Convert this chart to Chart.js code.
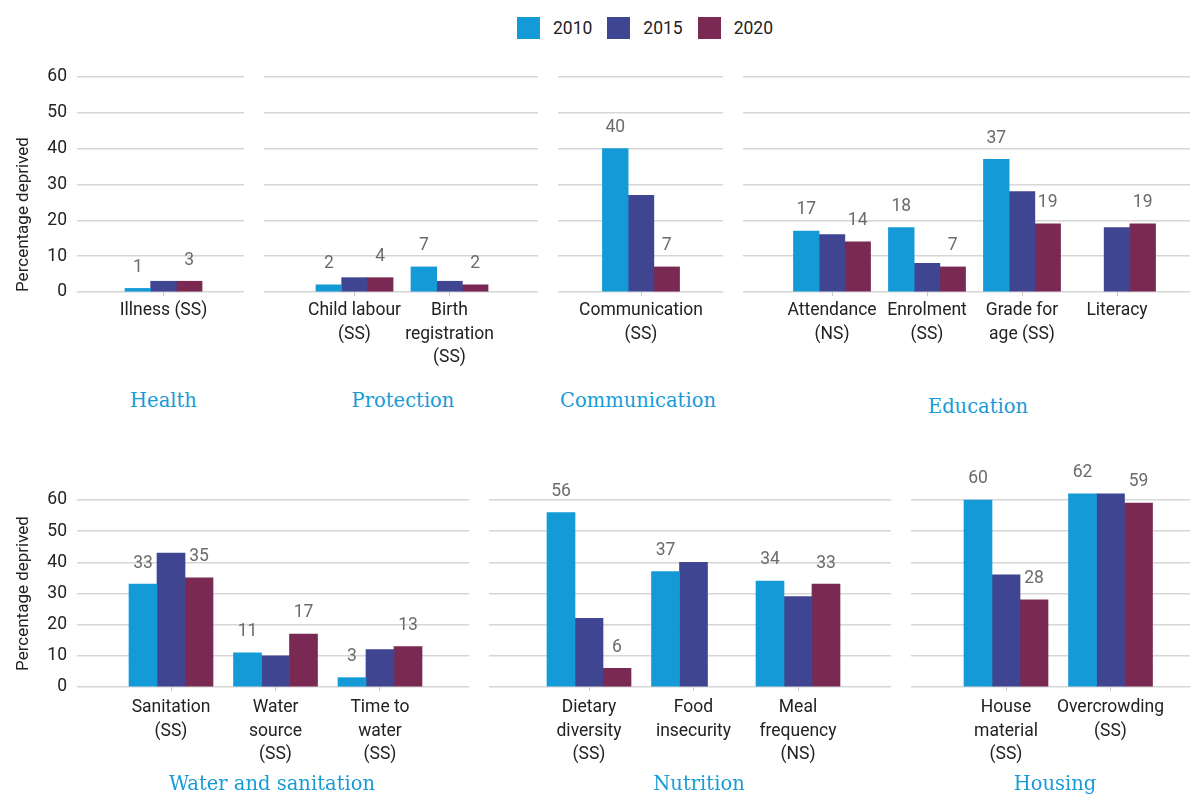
<!DOCTYPE html>
<html>
<head>
<meta charset="utf-8">
<script src="https://cdn.jsdelivr.net/npm/chart.js@4.4.1/dist/chart.umd.min.js"></script>
<style>
  html, body { margin: 0; padding: 0; background: #fff; }
  #page { position: relative; width: 1190px; height: 795px; overflow: hidden; }
  .panel { position: absolute; }
  .panel-title {
    position: absolute; transform: translate(-50%, -50%); white-space: nowrap;
    font-family: "DejaVu Serif", serif;
    font-size: 19.5px; color: #179bd7;
  }
  #legend {
    position: absolute; top: 17px; left: 517px;
    display: flex;
    font-family: Roboto, sans-serif; font-size: 17.5px; color: #222;
  }
  .legend-item { display: flex; align-items: center; margin-right: 15px; height: 22px; }
  .legend-box { width: 23px; height: 22px; margin-right: 13px; }
</style>
</head>
<body>
<div id="page">
  <div id="legend"></div>
</div>
<script>
const years = ["2010", "2015", "2020"];
const yearColors = ["#149bd7", "#3f4590", "#7a2952"];
const showValue = [true, false, true]; // values printed for 2010 and 2020 only
const yTicks = [0, 10, 20, 30, 40, 50, 60];

// Health
const healthCats = [["Illness (SS)"]];
const health2010 = [1];
const health2015 = [3];
const health2020 = [3];

// Protection
const protectionCats = [["Child labour", "(SS)"], ["Birth", "registration", "(SS)"]];
const protection2010 = [2, 7];
const protection2015 = [4, 3];
const protection2020 = [4, 2];

// Communication
const communicationCats = [["Communication", "(SS)"]];
const communication2010 = [40];
const communication2015 = [27];
const communication2020 = [7];

// Education
const educationCats = [["Attendance", "(NS)"], ["Enrolment", "(SS)"], ["Grade for", "age (SS)"], ["Literacy"]];
const education2010 = [17, 18, 37, null];
const education2015 = [16, 8, 28, 18];
const education2020 = [14, 7, 19, 19];

// Water and sanitation
const waterCats = [["Sanitation", "(SS)"], ["Water", "source", "(SS)"], ["Time to", "water", "(SS)"]];
const water2010 = [33, 11, 3];
const water2015 = [43, 10, 12];
const water2020 = [35, 17, 13];

// Nutrition
const nutritionCats = [["Dietary", "diversity", "(SS)"], ["Food", "insecurity"], ["Meal", "frequency", "(NS)"]];
const nutrition2010 = [56, 37, 34];
const nutrition2015 = [22, 40, 29];
const nutrition2020 = [6, null, 33];

// Housing
const housingCats = [["House", "material", "(SS)"], ["Overcrowding", "(SS)"]];
const housing2010 = [60, 62];
const housing2015 = [36, 62];
const housing2020 = [28, 59];

const FONT = "Roboto, sans-serif";
const FONT_SIZE = 17.5;

// layout of each small chart on the page (pixels)
const rows = {
  top:    { top: 40,  height: 340, plotTop: 77,  plotBottom: 292, unit: 95,    bar: 25.7, tickPad: 3, titleY: 400, yAlign: "start" },
  bottom: { top: 440, height: 355, plotTop: 500, plotBottom: 687, unit: 104.5, bar: 28,   tickPad: 5, titleY: 783, yAlign: "center" },
};
const panels = [
  { title: "Health",        row: "top",    left: 0,   width: 244, axis: true,  c0: 163.5, cats: healthCats,        series: [health2010, health2015, health2020] },
  { title: "Protection",    row: "top",    left: 264, width: 274, axis: false, c0: 354.5, cats: protectionCats,    series: [protection2010, protection2015, protection2020], tx: 403 },
  { title: "Communication", row: "top",    left: 558, width: 165, axis: false, c0: 641,   cats: communicationCats, series: [communication2010, communication2015, communication2020], tx: 638 },
  { title: "Education",     row: "top",    left: 743, width: 447, axis: false, c0: 832,   cats: educationCats,     series: [education2010, education2015, education2020], tx: 978, ty: 406 },
  { title: "Water and sanitation", row: "bottom", left: 0, width: 469, axis: true, c0: 171, cats: waterCats,     series: [water2010, water2015, water2020], tx: 272 },
  { title: "Nutrition",     row: "bottom", left: 489, width: 402, axis: false, c0: 589,   cats: nutritionCats,     series: [nutrition2010, nutrition2015, nutrition2020], tx: 699 },
  { title: "Housing",       row: "bottom", left: 911, width: 279, axis: false, c0: 1006,  cats: housingCats,       series: [housing2010, housing2015, housing2020], tx: 1055 },
];
const AXIS_W = 77;

// value labels above bars
const barValues = {
  id: "barValues",
  afterDatasetsDraw(chart) {
    const ctx = chart.ctx;
    ctx.save();
    ctx.font = FONT_SIZE + "px " + FONT;
    ctx.fillStyle = "#6b6b6b";
    ctx.textAlign = "center";
    ctx.textBaseline = "middle";
    chart.data.datasets.forEach((ds, i) => {
      if (!showValue[i]) return;
      chart.getDatasetMeta(i).data.forEach((bar, j) => {
        const v = ds.data[j];
        if (v === null || v === undefined) return;
        ctx.fillText(String(v), bar.x, bar.y - 21);
      });
    });
    ctx.restore();
  },
};

const page = document.getElementById("page");

// legend
const legend = document.getElementById("legend");
years.forEach((y, i) => {
  const item = document.createElement("div");
  item.className = "legend-item";
  item.innerHTML = `<span class="legend-box" style="background:${yearColors[i]}"></span><span>${y}</span>`;
  legend.appendChild(item);
});

panels.forEach(p => {
  const r = rows[p.row];
  const div = document.createElement("div");
  div.className = "panel";
  div.style.left = p.left + "px";
  div.style.top = r.top + "px";
  div.style.width = p.width + "px";
  div.style.height = r.height + "px";
  const canvas = document.createElement("canvas");
  div.appendChild(canvas);
  page.appendChild(div);

  const plotLeft = p.left + (p.axis ? AXIS_W : 0);
  const plotRight = p.left + p.width;
  const xMin = (plotLeft - p.c0) / r.unit;
  const xMax = (plotRight - p.c0) / r.unit;

  new Chart(canvas, {
    type: "bar",
    data: {
      labels: p.cats.map((_, i) => i),
      datasets: years.map((y, i) => ({
        label: y,
        data: p.series[i],
        backgroundColor: yearColors[i],
        barThickness: r.bar,
        clip: false,
      })),
    },
    options: {
      responsive: true,
      maintainAspectRatio: false,
      animation: false,
      layout: { padding: { top: r.plotTop - r.top, left: 0, right: 0, bottom: 0 } },
      plugins: { legend: { display: false }, tooltip: { enabled: false } },
      scales: {
        x: {
          type: "linear",
          offset: false,
          min: xMin,
          max: xMax,
          afterBuildTicks: s => { s.ticks = p.cats.map((_, i) => ({ value: i })); },
          afterFit: s => { s.height = r.top + r.height - r.plotBottom; },
          grid: { offset: false, drawOnChartArea: false, drawTicks: true, tickLength: 4, color: "#c8c8c8" },
          border: { display: false },
          ticks: {
            padding: r.tickPad,
            maxRotation: 0,
            autoSkip: false,
            color: "#222",
            font: { family: FONT, size: FONT_SIZE, lineHeight: 1.34 },
            callback: v => p.cats[v],
          },
        },
        y: {
          min: 0,
          max: 60,
          afterBuildTicks: s => { s.ticks = yTicks.map(v => ({ value: v })); },
          afterFit: s => { s.width = p.axis ? AXIS_W : 0; },
          grid: { color: "#d6d6d6", lineWidth: 1.5, drawTicks: false },
          border: { display: false },
          ticks: {
            display: p.axis,
            padding: 10,
            color: "#222",
            font: { family: FONT, size: FONT_SIZE },
          },
          title: {
            display: p.axis,
            text: "Percentage deprived",
            align: r.yAlign,
            color: "#222",
            font: { family: FONT, size: 17, lineHeight: 1.2 },
            padding: { top: 14, bottom: 0 },
          },
        },
      },
    },
    plugins: [barValues],
  });

  const t = document.createElement("div");
  t.className = "panel-title";
  t.textContent = p.title;
  t.style.left = (p.tx || p.c0) + "px";
  t.style.top = (p.ty || r.titleY) + "px";
  page.appendChild(t);
});
</script>
</body>
</html>
